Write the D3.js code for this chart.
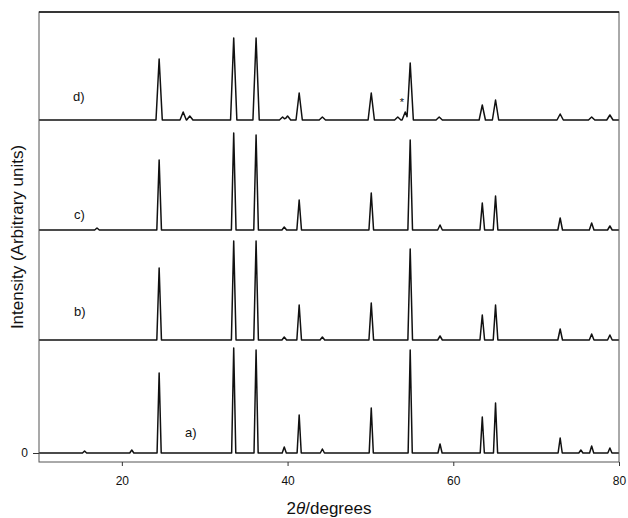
<!doctype html>
<html>
<head>
<meta charset="utf8">
<script src="https://d3js.org/d3.v7.min.js"></script>
<style>
  body { margin: 0; background: #fff; }
  text { font-family: "Liberation Sans", Arial, sans-serif; fill: #111; }
</style>
</head>
<body>
<svg width="628" height="518"></svg>
<script>
// peak lists: [2theta, height above own baseline]
var labels = ["a)", "b)", "c)", "d)"];
var offsets = [0, 113, 223, 333];
var halfWidths = [0.25, 0.28, 0.28, 0.38];
var peaksA = [[15.5, 2], [21.2, 3], [24.5, 80], [33.5, 105], [36.2, 103], [39.6, 6], [41.4, 38], [44.2, 4],
              [50.1, 45], [54.8, 103], [58.4, 9], [63.5, 36], [65.1, 50], [72.9, 15], [75.4, 3], [76.7, 7], [78.9, 5]];
var peaksB = [[24.5, 72], [33.5, 99], [36.2, 99], [39.6, 3], [41.4, 35], [44.2, 3], [50.1, 37], [54.8, 91],
              [58.4, 4], [63.5, 25], [65.1, 35], [72.9, 11], [76.7, 6], [78.9, 5]];
var peaksC = [[17.0, 2], [24.5, 70], [33.5, 97], [36.2, 95], [39.6, 3], [41.4, 30], [50.1, 37], [54.8, 90],
              [58.4, 5], [63.5, 27], [65.1, 34], [72.9, 12], [76.7, 7], [78.9, 4]];
var peaksD = [[24.5, 61], [27.4, 8], [28.2, 4], [33.5, 82], [36.2, 82], [39.4, 3], [40.0, 4], [41.4, 27],
              [44.2, 3], [50.1, 27], [53.3, 3], [54.2, 8], [54.8, 57], [58.3, 3], [63.5, 15], [65.1, 20],
              [72.9, 6], [76.7, 3], [78.9, 5]];
var allPeaks = [peaksA, peaksB, peaksC, peaksD];
var xTicks = [20, 40, 60, 80];
var yTicks = [0];
var starAt = [53.8, 14];

var svg = d3.select("svg"),
    pLeft = 39, pRight = 619, pTop = 12, pBottom = 462;

var x = d3.scaleLinear().domain([10, 80]).range([pLeft, pRight]);
var y = d3.scaleLinear().domain([0, 441]).range([453, 12]);

// piecewise linear profile: sum of triangular peaks, evaluated at the vertices
function profile(peaks, w) {
    var xs = [10, 80];
    peaks.forEach(function(p) { xs.push(p[0] - w, p[0], p[0] + w); });
    xs.sort(function(a, b) { return a - b; });
    return xs.map(function(t) {
        var v = 0;
        peaks.forEach(function(p) {
            var d = Math.abs(t - p[0]);
            if (d < w) v += p[1] * (1 - d / w);
        });
        return [t, v];
    });
}

var plot = svg.append("g");

var line = d3.line()
    .x(function(d) { return x(d[0]); })
    .y(function(d) { return d[1]; });

allPeaks.forEach(function(peaks, i) {
    var pts = profile(peaks, halfWidths[i]).map(function(d) {
        return [d[0], y(d[1] + offsets[i])];
    });
    plot.append("path")
        .attr("d", line(pts))
        .attr("fill", "none")
        .attr("stroke", "#111")
        .attr("stroke-width", 1.5)
        .attr("stroke-linejoin", "round");
});

// frame
svg.append("rect")
   .attr("x", pLeft).attr("y", pTop)
   .attr("width", pRight - pLeft).attr("height", pBottom - pTop)
   .attr("fill", "none")
   .attr("stroke", "#555")
   .attr("stroke-width", 1);
svg.append("line")
   .attr("x1", pLeft).attr("x2", pRight).attr("y1", pTop).attr("y2", pTop)
   .attr("stroke", "#111").attr("stroke-width", 1.5);

var xAxis = svg.append("g")
    .attr("transform", "translate(0," + pBottom + ")")
    .call(d3.axisBottom(x).tickValues(xTicks).tickSize(4).tickPadding(10));
xAxis.select(".domain").remove();
xAxis.selectAll(".tick line").attr("stroke", "#333");
xAxis.selectAll(".tick text").attr("font-size", "12px").attr("fill", "#111");

var yAxis = svg.append("g")
    .attr("transform", "translate(" + pLeft + ",0)")
    .call(d3.axisLeft(y).tickValues(yTicks).tickSize(6).tickPadding(5));
yAxis.select(".domain").remove();
yAxis.selectAll(".tick line").attr("stroke", "#333");
yAxis.selectAll(".tick text").attr("font-size", "12px").attr("fill", "#111");

// pattern labels
var labelPos = [[185, 437], [74, 316], [74, 219], [73, 101]];
labels.forEach(function(t, i) {
    svg.append("text")
       .attr("x", labelPos[i][0]).attr("y", labelPos[i][1])
       .attr("font-size", "13px")
       .text(t);
});

svg.append("text")
   .attr("x", x(starAt[0])).attr("y", y(starAt[1] + offsets[3]))
   .attr("text-anchor", "middle")
   .attr("font-size", "11px")
   .text("*");

// axis titles
svg.append("text")
   .attr("transform", "translate(23,237) rotate(-90)")
   .attr("text-anchor", "middle")
   .attr("font-size", "17px")
   .text("Intensity (Arbitrary units)");

var xt = svg.append("text")
   .attr("x", 329).attr("y", 514)
   .attr("text-anchor", "middle")
   .attr("font-size", "17px");
xt.append("tspan").text("2");
xt.append("tspan").attr("font-style", "italic").text("θ");
xt.append("tspan").text("/degrees");
</script>
</body>
</html>
